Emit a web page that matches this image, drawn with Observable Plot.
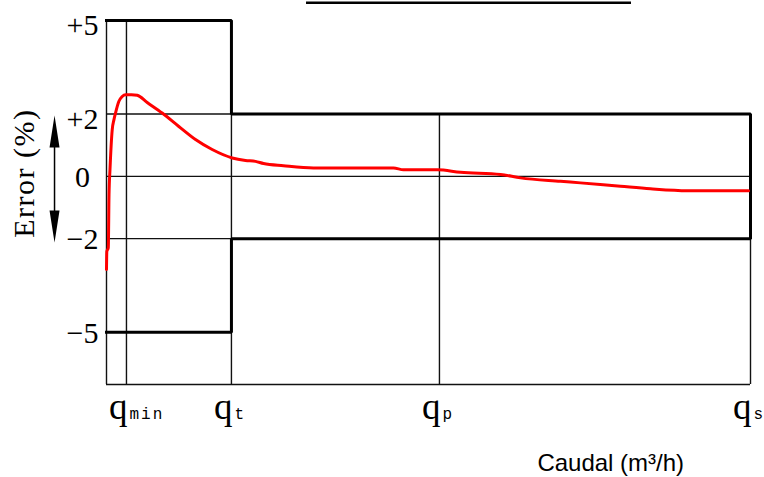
<!DOCTYPE html>
<html>
<head>
<meta charset="utf-8">
<script src="https://cdn.jsdelivr.net/npm/d3@7"></script>
<script src="https://cdn.jsdelivr.net/npm/@observablehq/plot@0.6"></script>
<style>
  html, body { margin: 0; padding: 0; background: #fff; }
  svg { display: block; }
</style>
</head>
<body>
<div id="chart"></div>
<script>
// Flow positions (arbitrary relative units) and their labels
const flowTicks = [3.1, 19.4, 51.7, 100];
const flowSubs = ["min", "t", "p", "s"];
const qMin = 3.1, qT = 19.4, qP = 51.7, qS = 100;

// Error axis ticks
const errTicks = [5, 2, 0, -2, -5];
const errLabels = ["+5", "+2", "0", "\u22122", "\u22125"];

// Maximum permissible error envelope (thick line)
const limitQ = [0, 19.4, 19.4, 100, 100, 19.4, 19.4, 0];
const limitE = [5, 5, 2, 2, -2, -2, -5, -5];

// Measured error curve (red)
const curveQ = [0, 0.05, 0.28, 0.39, 0.54, 0.89, 1.16, 1.40, 1.91, 2.44, 2.95, 3.88, 4.77, 6.32, 8.65, 11.23, 13.82, 16.41, 19.52, 21.58, 23.14, 24.38, 27.48, 32.14, 44.57, 46.12, 51.40, 54.97, 61.18, 64.29, 70.50, 73.60, 79.81, 84.47, 90.22, 99.69];
const curveErr = [-2.99, -2.41, -2.29, -0.59, 0.21, 1.50, 1.82, 2.03, 2.40, 2.56, 2.62, 2.62, 2.60, 2.37, 2.03, 1.60, 1.18, 0.86, 0.59, 0.51, 0.48, 0.41, 0.34, 0.27, 0.27, 0.21, 0.21, 0.13, 0.06, -0.05, -0.16, -0.21, -0.32, -0.40, -0.46, -0.46];

const yTop = 5.61, yBottom = -6.68;
const arrowQ = -8.07, arrowTop = 1.95, arrowBottom = -2.12;
const titleRule = {x1: 31.06, x2: 81.52, y: 5.57};

const serif = "Liberation Serif, DejaVu Serif, serif";

const headUp = {draw(ctx) { ctx.moveTo(0, 0); ctx.lineTo(5, 32); ctx.lineTo(-5, 32); ctx.closePath(); }};
const headDown = {draw(ctx) { ctx.moveTo(0, 0); ctx.lineTo(5, -32); ctx.lineTo(-5, -32); ctx.closePath(); }};

const curveIdx = d3.range(curveQ.length);
const limitIdx = d3.range(limitQ.length);
const tickIdx = d3.range(errTicks.length);
const flowIdx = d3.range(flowTicks.length);

const thin = {stroke: "#111", strokeWidth: 1.4};

const chart = Plot.plot({
  width: 764,
  height: 477,
  marginLeft: 106,
  marginRight: 14,
  marginTop: 1,
  marginBottom: 93,
  x: {domain: [0, 100], axis: null},
  y: {domain: [yBottom, yTop], axis: null},
  marks: [
    // thin grid / axes
    Plot.ruleX([0, qMin, qT], {y1: 5, y2: yBottom, ...thin}),
    Plot.ruleX([qP], {y1: 2, y2: yBottom, ...thin}),
    Plot.ruleX([qS], {y1: -2, y2: yBottom, ...thin}),
    Plot.ruleY([2, -2], {x1: 0, x2: qT, ...thin}),
    Plot.ruleY([0], {x1: 0, x2: qS, ...thin}),
    Plot.ruleY([yBottom], {x1: 0, x2: qS, ...thin}),
    // title underline
    Plot.ruleY([titleRule.y], {x1: titleRule.x1, x2: titleRule.x2, stroke: "#000", strokeWidth: 2.6}),
    // tolerance envelope
    Plot.line(limitIdx, {x: i => limitQ[i], y: i => limitE[i], stroke: "#000", strokeWidth: 3, strokeLinejoin: "miter", strokeLinecap: "square"}),
    // error curve
    Plot.line(curveIdx, {x: i => curveQ[i], y: i => curveErr[i], stroke: "#ff0000", strokeWidth: 3, strokeLinejoin: "round", curve: "monotone-x"}),
    // double arrow
    Plot.ruleX([arrowQ], {y1: arrowTop - 0.3, y2: arrowBottom + 0.3, stroke: "#000", strokeWidth: 1.5}),
    Plot.dot([arrowTop], {x: arrowQ, y: d => d, symbol: headUp, fill: "#000", stroke: null}),
    Plot.dot([arrowBottom], {x: arrowQ, y: d => d, symbol: headDown, fill: "#000", stroke: null}),
    // y tick labels
    Plot.text(tickIdx.filter(i => errTicks[i] > 0), {y: i => errTicks[i], text: i => errLabels[i], frameAnchor: "left", textAnchor: "middle", dx: -24, dy: 5, fontSize: 30, fontFamily: serif, fill: "#000"}),
    Plot.text(tickIdx.filter(i => errTicks[i] <= 0), {y: i => errTicks[i], text: i => errLabels[i], frameAnchor: "left", textAnchor: "middle", dx: -24, dy: 1, fontSize: 30, fontFamily: serif, fill: "#000"}),
    // y title
    Plot.text(["Error (%)"], {y: 0.1, frameAnchor: "left", dx: -82, rotate: -90, fontSize: 30, fontFamily: serif, fill: "#000", textAnchor: "middle"}),
    // x tick labels
    Plot.text(flowIdx, {x: i => flowTicks[i], text: () => "q", frameAnchor: "bottom", textAnchor: "end", lineAnchor: "bottom", dx: 1, dy: 34, fontSize: 37, fontFamily: serif, fill: "#000"}),
    Plot.text(flowIdx, {x: i => flowTicks[i], text: i => flowSubs[i], frameAnchor: "bottom", textAnchor: "start", lineAnchor: "bottom", dx: 3, dy: 34, fontSize: 16, fontFamily: "Liberation Mono, DejaVu Sans Mono, monospace", fill: "#000"}),
    // x title
    Plot.text(["Caudal (m\u00B3/h)"], {x: 78.3, frameAnchor: "bottom", textAnchor: "middle", lineAnchor: "bottom", dy: 86, fontSize: 24, fontFamily: "Liberation Sans, Arial, sans-serif", fill: "#000"})
  ]
});

chart.style.background = "#fff";
chart.style.overflow = "visible";
d3.select(chart).selectAll("text").filter(function() { return this.textContent === "min"; }).style("letter-spacing", "2px");
d3.select(chart).selectAll("text").filter(function() { return this.textContent === "Error (%)"; }).style("letter-spacing", "1.5px");
document.getElementById("chart").append(chart);
</script>
</body>
</html>
